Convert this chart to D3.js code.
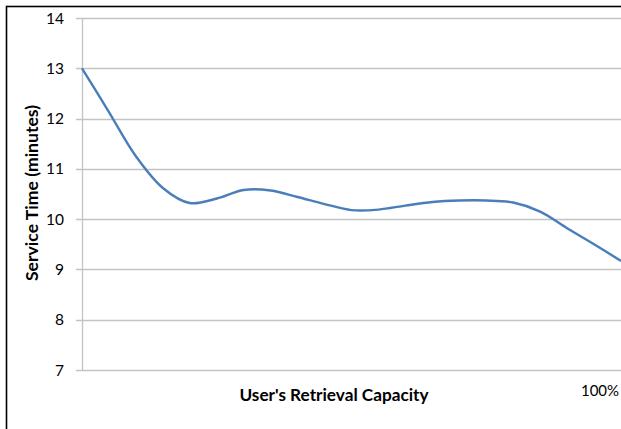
<!DOCTYPE html>
<html>
<head>
<meta charset="utf-8">
<script src="https://cdn.jsdelivr.net/npm/d3@7"></script>
<style>
  html, body { margin: 0; padding: 0; background: #fff; overflow: hidden; }
  svg { display: block; }
  text { font-family: Lato, "Open Sans", "Liberation Sans", sans-serif; fill: #000; }
</style>
</head>
<body>
<svg id="chart" width="621" height="429"></svg>
<script>
// Capacity steps (0% .. 100% in 5% steps) and the service time measured at each step
const capacity = ["0%", "5%", "10%", "15%", "20%", "25%", "30%", "35%", "40%", "45%", "50%",
                  "55%", "60%", "65%", "70%", "75%", "80%", "85%", "90%", "95%", "100%"];
const serviceTime = [13.0, 12.13, 11.25, 10.62, 10.32, 10.41, 10.58, 10.57, 10.44, 10.30, 10.18,
                     10.19, 10.27, 10.34, 10.37, 10.37, 10.33, 10.15, 9.82, 9.50, 9.17];
const yTicks = [7, 8, 9, 10, 11, 12, 13, 14];
const shownXLabels = ["100%"];

const svg = d3.select("#chart");

// outer chart frame (extends past the right and bottom edges)
svg.append("rect")
  .attr("x", 6.5).attr("y", 6.5)
  .attr("width", 700).attr("height", 500)
  .attr("fill", "none").attr("stroke", "#000").attr("stroke-width", 1.6);

const plot = { left: 82, right: 621, top: 18, bottom: 370 };

const x = d3.scalePoint().domain(capacity).range([plot.left, plot.right]);
const y = d3.scaleLinear().domain([7, 14]).range([plot.bottom, plot.top]);

// horizontal gridlines
svg.append("g")
  .selectAll("line")
  .data(yTicks)
  .join("line")
  .attr("x1", plot.left - 6).attr("x2", plot.right + 2)
  .attr("y1", d => Math.round(y(d)) + 0.5).attr("y2", d => Math.round(y(d)) + 0.5)
  .attr("stroke", "#c3c3c3").attr("stroke-width", 1.3);

// vertical axis line
svg.append("line")
  .attr("x1", plot.left + 0.5).attr("x2", plot.left + 0.5)
  .attr("y1", y(14)).attr("y2", y(7))
  .attr("stroke", "#c3c3c3").attr("stroke-width", 1.3);

// y tick labels
svg.append("g")
  .selectAll("text")
  .data(yTicks)
  .join("text")
  .attr("x", 64)
  .attr("y", d => y(d) + 5.5)
  .attr("text-anchor", "end")
  .attr("font-size", 15.5)
  .text(d => d);

// category label(s) shown along the bottom
svg.append("g")
  .selectAll("text")
  .data(shownXLabels)
  .join("text")
  .attr("x", d => x(d) - 21)
  .attr("y", 396)
  .attr("text-anchor", "middle")
  .attr("font-size", 15)
  .text(d => d);

// axis titles
svg.append("text")
  .attr("x", 334).attr("y", 401)
  .attr("text-anchor", "middle")
  .attr("font-size", 17.2)
  .attr("font-weight", "bold")
  .text("User's Retrieval Capacity");

svg.append("text")
  .attr("transform", "translate(37.5,193) rotate(-90)")
  .attr("text-anchor", "middle")
  .attr("font-size", 17.6)
  .attr("font-weight", "bold")
  .text("Service Time (minutes)");

// smoothed service-time line
const line = d3.line()
  .x((d, i) => x(capacity[i]))
  .y(d => y(d))
  .curve(d3.curveCatmullRom.alpha(0.5));

svg.append("path")
  .datum(serviceTime)
  .attr("d", line)
  .attr("fill", "none")
  .attr("stroke", "#4a7ebb")
  .attr("stroke-width", 2.4)
  .attr("stroke-linejoin", "round");
</script>
</body>
</html>
